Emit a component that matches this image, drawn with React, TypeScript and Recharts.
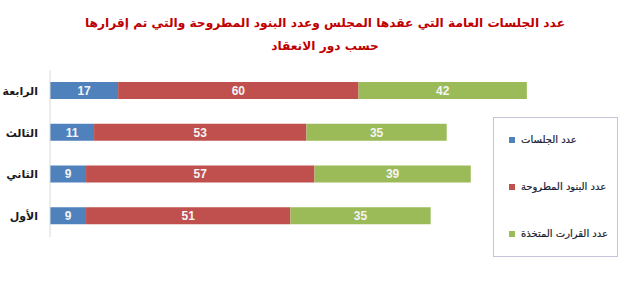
import { BarChart, Bar, XAxis, YAxis, Legend, LabelList } from "recharts"

const rounds = ["الرابعة", "الثالث", "الثاني", "الأول"]
const sessions = [17, 11, 9, 9]
const items = [60, 53, 57, 51]
const decisions = [42, 35, 39, 35]

const seriesKeys = ["sessions", "items", "decisions"]
const seriesNames = ["عدد الجلسات", "عدد البنود المطروحة", "عدد القرارت المتخذة"]
const colors = ["#4f81bd", "#c0504d", "#9bbb59"]

const data = rounds.map((round, i) => ({
  round,
  sessions: sessions[i],
  items: items[i],
  decisions: decisions[i],
}))

const arabicFont = "'DejaVu Sans', Arial, sans-serif"

function RoundTick({ x, y, payload }: any) {
  return (
    <text
      x={x}
      y={y}
      dy={4}
      textAnchor="end"
      fontFamily={arabicFont}
      fontSize={11}
      fontWeight="bold"
      fill="#1a1a1a"
    >
      {payload.value}
    </text>
  )
}

function LegendBox({ payload }: any) {
  // keep the series order, whatever order recharts hands them over in
  const entries = [...(payload || [])].sort(
    (a: any, b: any) => seriesKeys.indexOf(a.dataKey) - seriesKeys.indexOf(b.dataKey)
  )
  return (
    <div
      style={{
        width: 125,
        height: 140,
        border: "1px solid #c4c4d8",
        boxSizing: "border-box",
        position: "relative",
        background: "#fff",
      }}
    >
      {entries.map((entry: any, i: number) => (
        <div
          key={entry.value}
          style={{
            position: "absolute",
            left: 15,
            top: 16 + i * 47,
            display: "flex",
            alignItems: "center",
            whiteSpace: "nowrap",
          }}
        >
          <span
            style={{
              width: 6,
              height: 6,
              background: entry.color,
              display: "inline-block",
              marginRight: 6,
            }}
          />
          <span
            style={{
              fontFamily: arabicFont,
              fontSize: 10,
              color: "#1a1a33",
              WebkitTextStroke: "0.2px #1a1a33",
            }}
          >
            {entry.value}
          </span>
        </div>
      ))}
    </div>
  )
}

export default function App() {
  const label = {
    fill: "#f4f4f4",
    fontSize: 12,
    fontWeight: "bold",
    fontFamily: "Arial, 'Liberation Sans', sans-serif",
  }

  return (
    <div
      style={{
        position: "absolute",
        left: 0,
        top: 0,
        width: 627,
        height: 285,
        background: "#fff",
      }}
    >
      <div
        style={{
          position: "absolute",
          left: 0,
          top: 12,
          width: 650,
          textAlign: "center",
          fontFamily: arabicFont,
          fontWeight: "bold",
          fontSize: 12.2,
          lineHeight: "23px",
          color: "#c00000",
          direction: "rtl",
        }}
      >
        <div>عدد الجلسات العامة التي عقدها المجلس وعدد البنود المطروحة والتي تم إقرارها</div>
        <div>حسب دور الانعقاد</div>
      </div>
      <BarChart
        width={627}
        height={285}
        data={data}
        layout="vertical"
        margin={{ top: 70, right: 16, bottom: 48, left: 0 }}
        barSize={17}
      >
        <XAxis type="number" domain={[0, 140]} hide />
        <YAxis
          type="category"
          dataKey="round"
          width={50}
          axisLine={{ stroke: "#d9d9d9" }}
          tickLine={false}
          tickSize={0}
          tickMargin={12}
          tick={<RoundTick />}
        />
        <Legend
          layout="vertical"
          align="center"
          verticalAlign="middle"
          wrapperStyle={{ left: 493, top: 117, width: 125, height: 140 }}
          content={<LegendBox />}
        />
        <Bar dataKey="sessions" name={seriesNames[0]} stackId="a" fill={colors[0]} isAnimationActive={false}>
          <LabelList dataKey="sessions" position="center" style={label} />
        </Bar>
        <Bar dataKey="items" name={seriesNames[1]} stackId="a" fill={colors[1]} isAnimationActive={false}>
          <LabelList dataKey="items" position="center" style={label} />
        </Bar>
        <Bar dataKey="decisions" name={seriesNames[2]} stackId="a" fill={colors[2]} isAnimationActive={false}>
          <LabelList dataKey="decisions" position="center" style={label} />
        </Bar>
      </BarChart>
    </div>
  )
}
